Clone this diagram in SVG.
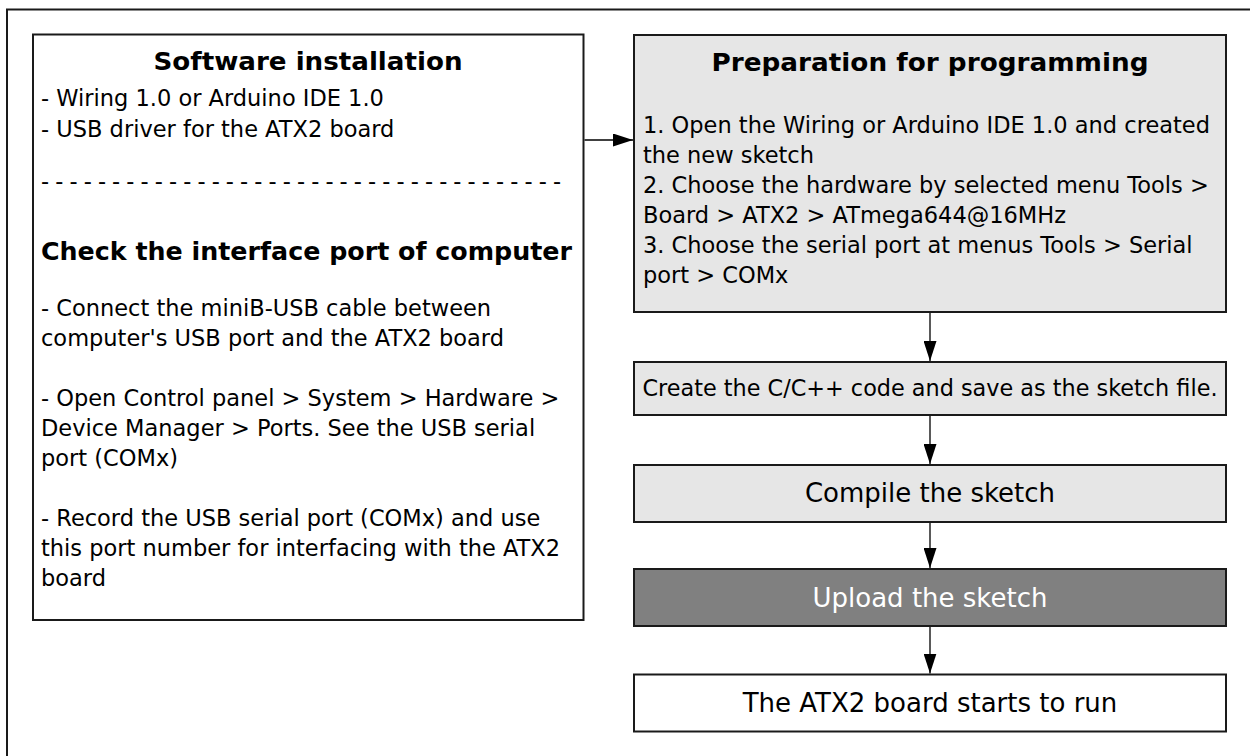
<svg xmlns="http://www.w3.org/2000/svg" width="1250" height="756" viewBox="0 0 1250 756">
<style>
.box{stroke:#1a1a1a;stroke-width:2}
.t{font-family:"DejaVu Sans",Verdana,sans-serif;font-size:22.5px;fill:#000}
.h{font-family:"DejaVu Sans",Verdana,sans-serif;font-size:25.5px;font-weight:bold;fill:#000}
.b{font-family:"DejaVu Sans",Verdana,sans-serif;font-size:26px;fill:#000}
.c{stroke:#000;stroke-width:1.3;fill:none}
</style>
<defs>
<marker id="ah" markerWidth="20" markerHeight="13" refX="20" refY="6.5" orient="auto" markerUnits="userSpaceOnUse">
<path d="M0,0 L20,6.5 L0,13 Z" fill="#000"/>
</marker>
</defs>
<rect x="0" y="0" width="1250" height="756" fill="#fff"/>
<rect x="7" y="9.5" width="1280" height="800" fill="none" class="box"/>

<g id="software">
<rect class="box" x="33" y="34.5" width="550.5" height="585.5" fill="#fff"/>
<text class="h" x="308" y="70" text-anchor="middle" textLength="309" lengthAdjust="spacingAndGlyphs">Software installation</text>
<text class="t" x="41" y="106">- Wiring 1.0 or Arduino IDE 1.0</text>
<text class="t" x="41" y="137">- USB driver for the ATX2 board</text>
<text class="t" x="41" y="189" textLength="520" lengthAdjust="spacing">- - - - - - - - - - - - - - - - - - - - - - - - - - - - - - - - - - - - -</text>
<text class="h" x="41" y="260" textLength="531" lengthAdjust="spacingAndGlyphs">Check the interface port of computer</text>
<text class="t" x="41" y="316">- Connect the miniB-USB cable between</text>
<text class="t" x="41" y="346">computer's USB port and the ATX2 board</text>
<text class="t" x="41" y="406">- Open Control panel &gt; System &gt; Hardware &gt;</text>
<text class="t" x="41" y="436">Device Manager &gt; Ports. See the USB serial</text>
<text class="t" x="41" y="466">port (COMx)</text>
<text class="t" x="41" y="526">- Record the USB serial port (COMx) and use</text>
<text class="t" x="41" y="556">this port number for interfacing with the ATX2</text>
<text class="t" x="41" y="586">board</text>
</g>

<g id="preparation">
<rect class="box" x="634" y="35" width="592" height="277" fill="#e6e6e6"/>
<text class="h" x="930" y="71" text-anchor="middle" textLength="437" lengthAdjust="spacingAndGlyphs">Preparation for programming</text>
<text class="t" x="643" y="133">1. Open the Wiring or Arduino IDE 1.0 and created</text>
<text class="t" x="643" y="163">the new sketch</text>
<text class="t" x="643" y="193">2. Choose the hardware by selected menu Tools &gt;</text>
<text class="t" x="643" y="223">Board &gt; ATX2 &gt; ATmega644@16MHz</text>
<text class="t" x="643" y="253">3. Choose the serial port at menus Tools &gt; Serial</text>
<text class="t" x="643" y="283">port &gt; COMx</text>
</g>

<g id="create">
<rect class="box" x="634" y="362" width="592" height="53" fill="#e6e6e6"/>
<text class="t" x="930" y="396" text-anchor="middle" textLength="575" lengthAdjust="spacingAndGlyphs">Create the C/C++ code and save as the sketch file.</text>
</g>

<g id="compile">
<rect class="box" x="634" y="465" width="592" height="57" fill="#e6e6e6"/>
<text class="b" x="930" y="502" text-anchor="middle">Compile the sketch</text>
</g>

<g id="upload">
<rect class="box" x="634" y="569" width="592" height="57" fill="#808080"/>
<text class="b" x="930" y="607" text-anchor="middle" style="fill:#fff">Upload the sketch</text>
</g>

<g id="run">
<rect class="box" x="634" y="674.5" width="592" height="57" fill="#fff"/>
<text class="b" x="930" y="712" text-anchor="middle">The ATX2 board starts to run</text>
</g>

<g id="connectors">
<line class="c" x1="584.5" y1="140" x2="633" y2="140" marker-end="url(#ah)"/>
<line class="c" x1="930" y1="313" x2="930" y2="361" marker-end="url(#ah)"/>
<line class="c" x1="930" y1="416" x2="930" y2="464" marker-end="url(#ah)"/>
<line class="c" x1="930" y1="523" x2="930" y2="568" marker-end="url(#ah)"/>
<line class="c" x1="930" y1="627" x2="930" y2="673.5" marker-end="url(#ah)"/>
</g>
</svg>
